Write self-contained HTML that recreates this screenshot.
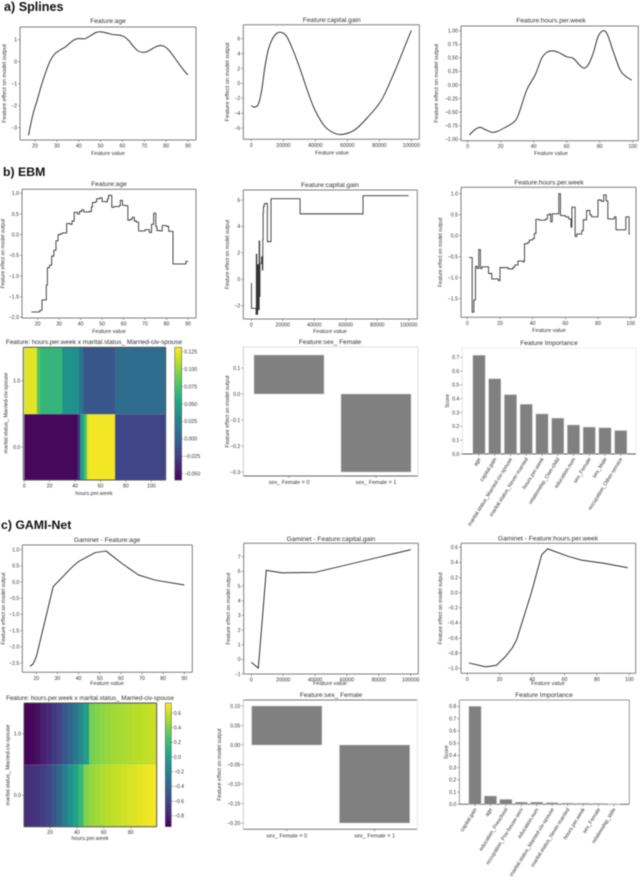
<!DOCTYPE html>
<html lang="en">
<head>
<meta charset="utf-8">
<title>Splines, EBM and GAMI-Net feature effects</title>
<style>
html,body{margin:0;padding:0;background:#fff;}
svg{display:block;filter:blur(0.4px);}
text{font-family:"Liberation Sans",sans-serif;fill:#333;}
</style>
</head>
<body>
<svg id="fig" width="640" height="880" viewBox="0 0 640 880" xmlns="http://www.w3.org/2000/svg">
<rect width="640" height="880" fill="#fff"></rect>
<text x="4" y="11" style="font-size:12.6px;font-weight:bold;fill:#111">a) Splines</text>
<text x="3" y="176" style="font-size:12.3px;font-weight:bold;fill:#111">b) EBM</text>
<text x="1" y="529" style="font-size:12.3px;font-weight:bold;fill:#111">c) GAMI-Net</text>
</svg>
<script>
// ---------- data: a) Splines ----------
var splineAgeX = [17,19,21,23,25,27,29,31,34,36,38,40,43,46,48,50,53,56,59,61,63,65,67,69,71,73,75,77,79,81,83,85,87,89,90];
var splineAgeY = [-3.35,-2.42,-1.75,-1.05,-0.45,0.05,0.35,0.5,0.68,0.85,1.0,1.05,1.05,1.22,1.33,1.36,1.3,1.23,1.2,1.12,0.95,0.7,0.5,0.43,0.45,0.55,0.67,0.73,0.7,0.55,0.3,0.02,-0.25,-0.5,-0.6];
var splineCapX = [0,1900,4400,6500,8500,10600,13000,15800,18500,22000,26000,30400,35600,39800,46000,52000,57500,65000,73000,81500,90000,96000,100000];
var splineCapY = [-3,-3.2,-2.8,-0.9,2.2,4.5,5.9,6.7,6.85,6.35,4.5,2,-1.3,-3.6,-5.8,-6.7,-6.85,-6.2,-4.5,-2.2,1.8,5,7.1];
var splineHoursX = [1,4.5,7.5,10.5,14.5,17.5,21.6,27.7,30.7,35.8,40.8,44.8,47.9,51.3,55,60,64,68,70.5,73,76,79,82.2,84.8,88.3,92.3,95.4,99.4];
var splineHoursY = [-0.92,-0.82,-0.78,-0.82,-0.87,-0.86,-0.8,-0.69,-0.55,-0.09,0.18,0.49,0.6,0.63,0.6,0.52,0.49,0.36,0.31,0.37,0.58,0.89,1.0,0.92,0.61,0.28,0.17,0.09];

// ---------- data: b) EBM ----------
var ebmAgeX = [17,21,22,24,24.5,25.5,26.5,27.5,28.5,29.5,30.5,31.5,33.5,35,36,37,38.5,39.5,40.5,41.5,44,45,45.5,47,47.5,49,50,52,52.5,53,54.5,55.5,58,58.5,59.5,61,62,63,64,65,66,67,70,72,73,74,75,75.5,77,78,80,81,83,89,90];
var ebmAgeY = [-1.87,-1.83,-1.58,-1.22,-0.8,-0.74,-0.52,-0.38,-0.15,0,0.02,0.04,0.27,0.25,0.33,0.54,0.5,0.56,0.6,0.55,0.56,0.67,0.78,0.8,0.87,0.89,0.8,0.79,0.87,0.95,0.66,0.68,0.7,0.83,0.71,0.7,0.35,0.37,0.42,0.33,0.3,0.09,0.12,0.05,0.25,0.52,0.2,0.1,0.09,0.22,0.2,0.08,-0.71,-0.65,-0.65];
var ebmCapX = [0,100,3000,3200,3500,4000,4500,5000,5300,5500,6500,7000,7300,7500,7700,8200,9000,10200,12500,31000,71000,100000];
var ebmCapY = [-0.3,-2.2,-2.65,1.9,-2.65,1.1,-2.3,2.9,-1.3,1.2,1.7,0.7,3,5,5.5,5.7,5.75,2.85,6.1,4.95,6.33,6.33];
var ebmHoursX = [1,3,4,5,6,7,8,9,13,15,19,20,25,28,29,31,34,35,37,38,40,41,42,44,48,49,50.5,51,52,56,57,60,62,63.5,64,66,67,70,71,73,75,76,80,82,83.5,85,86,90,91,97,99,99.5];
var ebmHoursY = [-0.52,-1.82,-1.53,-0.73,-0.78,-0.33,-0.78,-0.74,-0.9,-1.03,-1.07,-0.76,-0.79,-0.75,-0.7,-0.6,-0.62,-0.19,-0.16,-0.1,-0.07,0.05,0.39,0.37,0.4,0.5,0.52,0.33,0.52,1.0,0.48,0.45,0.4,0.2,0.68,-0.02,0.04,0.12,0.38,0.6,0.5,0.45,0.85,0.82,0.97,0.83,0.4,0.45,0.14,0.45,0.04,0.04];

var ebmHeatTopEdges = [0,10,12.5,30,43,46.5,71.5,111];
var ebmHeatTopValues = [0.123,0.078,0.066,0.036,0.013,-0.008,0.009];
var ebmHeatBottomEdges = [0,42,44,47,49,50,71.5,111];
var ebmHeatBottomValues = [-0.055,-0.03,0.046,0.075,0.11,0.128,-0.02];
var ebmHeatXTicks = [0,20,40,60,80,100];
var ebmHeatCbarTicks = [-0.05,-0.025,0,0.025,0.05,0.075,0.1,0.125];

var ebmSexCategories = ['sex_ Female = 0','sex_ Female = 1'];
var ebmSexValues = [0.15,-0.3];
var ebmImportanceNames = ['age','capital.gain','marital.status_Married-civ-spouse','marital.status_Never-married','hours.per.week','relationship_Own-child','education.num','sex_Female','sex_Male','occupation_Other-service'];
var ebmImportanceValues = [0.715,0.545,0.43,0.36,0.29,0.26,0.21,0.195,0.19,0.17];

// ---------- data: c) GAMI-Net ----------
var gamiAgeX = [17,18.5,20,28,37.5,39.9,47.8,53,60.4,68.3,76.2,90];
var gamiAgeY = [-2.6,-2.53,-2.31,-0.14,0.5,0.63,0.91,0.96,0.58,0.22,0.06,-0.09];
var gamiCapX = [0,4400,9400,19000,40000,100000];
var gamiCapY = [-0.2,-0.6,6.07,5.9,5.93,7.48];
var gamiHoursX = [1,11.3,18,23.3,27.8,30.5,39.7,45.9,49.6,62.3,70.6,84,99];
var gamiHoursY = [-0.93,-0.98,-0.96,-0.85,-0.73,-0.62,0.01,0.5,0.58,0.48,0.43,0.39,0.33];

var gamiHeatEdges = [0.7,5,9,13,17,21,25,29,33,37,41,45,49,53,57,61,65,69,73,77,81,85,89,93,97,99.3];
var gamiHeatTop = [-0.93,-0.91,-0.87,-0.8,-0.75,-0.67,-0.61,-0.5,-0.41,-0.28,-0.15,-0.02,0.38,0.42,0.45,0.47,0.49,0.51,0.52,0.53,0.55,0.56,0.57,0.59,0.6];
var gamiHeatBottom = [-0.72,-0.71,-0.69,-0.65,-0.6,-0.5,-0.38,-0.25,-0.1,0.02,0.18,0.42,0.47,0.5,0.53,0.55,0.57,0.59,0.61,0.63,0.65,0.67,0.69,0.71,0.72];
var gamiHeatXTicks = [20,40,60,80];
var gamiHeatCbarTicks = [-0.8,-0.6,-0.4,-0.2,0,0.2,0.4,0.6];

var gamiSexCategories = ['sex_ Female = 0','sex_ Female = 1'];
var gamiSexValues = [0.1,-0.2];
var gamiImportanceNames = ['capital.gain','age','education_Preschool','occupation_Priv-house-serv','education.num','marital.status_Married-civ-spouse','marital.status_Never-married','hours.per.week','sex_Female','relationship_Wife'];
var gamiImportanceValues = [0.8,0.068,0.04,0.018,0.018,0.014,0.01,0.009,0.008,0.005];

// ---------- shared tick label arrays ----------
var ageTicks = [20,30,40,50,60,70,80,90];
var capTicks = [0,20000,40000,60000,80000,100000];
var hoursTicks = [0,20,40,60,80,100];
var viridisStops = ['#440154','#482475','#414487','#355f8d','#2a788e','#21918c','#22a884','#43bf71','#7ad151','#bddf26','#fde725'];

// ---------- helpers ----------
var NS = 'http://www.w3.org/2000/svg';
var fig = document.getElementById('fig');

function mk(tag, attrs, name, parent) {
  var el = document.createElementNS(NS, tag);
  for (var k in attrs) { el.setAttribute(k, attrs[k]); }
  
  
  (parent || fig).appendChild(el);
  return el;
}
function txt(s, x, y, size, anchor, name, parent, extra) {
  var a = {x: x, y: y, 'text-anchor': anchor, style: 'font-size:' + size + 'px'};
  if (extra) { for (var k in extra) { a[k] = extra[k]; } }
  var t = mk('text', a, name, parent);
  t.textContent = s;
  return t;
}
function lin(v0, p0, v1, p1) {
  return function (v) { return p0 + (v - v0) * (p1 - p0) / (v1 - v0); };
}
function fmt(v, d) {
  return (v < 0 ? '\u2212' : '') + Math.abs(v).toFixed(d);
}
function hex2(c) { return parseInt(c, 16); }
function viridis(t) {
  t = Math.max(0, Math.min(1, t)) * (viridisStops.length - 1);
  var i = Math.min(Math.floor(t), viridisStops.length - 2), f = t - i;
  var a = viridisStops[i], b = viridisStops[i + 1], out = '#';
  for (var j = 1; j < 7; j += 2) {
    var ca = hex2(a.substr(j, 2)), cb = hex2(b.substr(j, 2));
    var c = Math.round(ca + (cb - ca) * f).toString(16);
    out += c.length < 2 ? '0' + c : c;
  }
  return out;
}
function frame(g, b, colors) {
  var c = colors || {};
  var edge = '#7f7f7f';
  mk('line', {x1: b.l, y1: b.t, x2: b.r, y2: b.t, stroke: c.top || edge, 'stroke-width': 1}, 'top-spine', g);
  mk('line', {x1: b.l, y1: b.b, x2: b.r, y2: b.b, stroke: c.bottom || edge, 'stroke-width': 1}, 'bottom-spine', g);
  mk('line', {x1: b.l, y1: b.t, x2: b.l, y2: b.b, stroke: c.left || edge, 'stroke-width': 1}, 'left-spine', g);
  mk('line', {x1: b.r, y1: b.t, x2: b.r, y2: b.b, stroke: c.right || edge, 'stroke-width': 1}, 'right-spine', g);
}
function xTick(g, b, px, label) {
  mk('line', {x1: px, y1: b.b, x2: px, y2: b.b + 2, stroke: '#555', 'stroke-width': 0.5}, 'x-tick', g);
  txt(label, px, b.b + 7.5, 5.2, 'middle', 'x-tick-label', g);
}
function yTick(g, b, py, label) {
  mk('line', {x1: b.l - 2, y1: py, x2: b.l, y2: py, stroke: '#555', 'stroke-width': 0.5}, 'y-tick', g);
  txt(label, b.l - 3, py + 1.8, 5.2, 'end', 'y-tick-label', g);
}
function yTitle(g, s, x, cy, size) {
  txt(s, x, cy, size || 5.8, 'middle', 'y-axis-title', g, {transform: 'rotate(-90 ' + x + ' ' + cy + ')'});
}
function linePath(xs, ys, sx, sy) {
  var d = '';
  for (var i = 0; i < xs.length; i++) { d += (i ? 'L' : 'M') + sx(xs[i]).toFixed(2) + ' ' + sy(ys[i]).toFixed(2); }
  return d;
}
function smoothPath(xs, ys, sx, sy) {
  var n = xs.length, d = 'M' + sx(xs[0]).toFixed(2) + ' ' + sy(ys[0]).toFixed(2);
  function px(i) { return sx(xs[Math.max(0, Math.min(n - 1, i))]); }
  function py(i) { return sy(ys[Math.max(0, Math.min(n - 1, i))]); }
  for (var i = 0; i < n - 1; i++) {
    var c1x = px(i) + (px(i + 1) - px(i - 1)) / 6, c1y = py(i) + (py(i + 1) - py(i - 1)) / 6;
    var c2x = px(i + 1) - (px(i + 2) - px(i)) / 6, c2y = py(i + 1) - (py(i + 2) - py(i)) / 6;
    d += 'C' + c1x.toFixed(2) + ' ' + c1y.toFixed(2) + ' ' + c2x.toFixed(2) + ' ' + c2y.toFixed(2) + ' ' + px(i + 1).toFixed(2) + ' ' + py(i + 1).toFixed(2);
  }
  return d;
}
function stepPath(xs, ys, sx, sy) {
  var d = 'M' + sx(xs[0]).toFixed(2) + ' ' + sy(ys[0]).toFixed(2);
  for (var i = 1; i < xs.length; i++) {
    d += 'H' + sx(xs[i]).toFixed(2) + 'V' + sy(ys[i]).toFixed(2);
  }
  return d;
}
function curvePanel(o) {
  var g = mk('g', {}, o.name, fig);
  var b = o.box;
  var sx = lin(o.xc[0], o.xc[1], o.xc[2], o.xc[3]);
  var sy = lin(o.yc[0], o.yc[1], o.yc[2], o.yc[3]);
  txt(o.title, o.titleX, o.titleY, o.titleSize || 6.6, 'middle', 'chart-title', g);
  frame(g, b);
  o.xTicks.forEach(function (v) { xTick(g, b, sx(v), String(v)); });
  o.yTicks.forEach(function (v) { yTick(g, b, sy(v), fmt(v, o.yDec)); });
  txt('Feature value', o.xTitleX, o.xTitleY, 5.5, 'middle', 'x-axis-title', g);
  yTitle(g, 'Feature effect on model output', o.yTitleX, (b.t + b.b) / 2, o.yTitleSize);
  var d = o.step ? stepPath(o.x, o.y, sx, sy) : (o.smooth ? smoothPath(o.x, o.y, sx, sy) : linePath(o.x, o.y, sx, sy));
  mk('path', {d: d, fill: 'none', stroke: o.step ? '#333' : '#111', 'stroke-width': o.step ? 0.9 : 0.85, 'stroke-linejoin': 'round'}, o.lineName, g);
}
function barPanel(o) {
  var g = mk('g', {}, o.name, fig);
  var b = o.box;
  var sy = lin(o.yc[0], o.yc[1], o.yc[2], o.yc[3]);
  txt(o.title, o.titleX, o.titleY, 6.6, 'middle', 'chart-title', g);
  frame(g, b, o.spines);
  o.values.forEach(function (v, i) {
    var cx = o.first + i * o.pitch;
    var y0 = sy(0), y1 = sy(v);
    mk('rect', {x: cx - o.w / 2, y: Math.min(y0, y1), width: o.w, height: Math.abs(y1 - y0), fill: '#808080', stroke: '#d0d0d0', 'stroke-width': 0.5}, 'bar-' + o.labels[i].replace(/[^a-zA-Z0-9]+/g, '-').toLowerCase(), g);
    mk('line', {x1: cx, y1: b.b, x2: cx, y2: b.b + 2, stroke: '#555', 'stroke-width': 0.5}, 'x-tick', g);
    if (o.rotate) {
      var lx = cx + 2, ly = b.b + 5;
      txt(o.labels[i], lx, ly, 5.3, 'end', 'x-tick-label', g, {transform: 'rotate(-58 ' + lx + ' ' + ly + ')'});
    } else {
      txt(o.labels[i], cx, b.b + 8, 5.5, 'middle', 'x-tick-label', g);
    }
  });
  o.yTicks.forEach(function (v) { yTick(g, b, sy(v), fmt(v, o.yDec)); });
  yTitle(g, o.yTitle, o.yTitleX, o.yTitleY || (b.t + b.b) / 2, o.yTitleSize);
}
function colorbar(g, cb, ticks, dec) {
  var sy = lin(cb.v0, cb.p0, cb.v1, cb.p1);
  var n = 64;
  for (var i = 0; i < n; i++) {
    var y0 = cb.b + (cb.t - cb.b) * i / n, y1 = cb.b + (cb.t - cb.b) * (i + 1) / n;
    mk('rect', {x: cb.l, y: y1, width: cb.r - cb.l, height: y0 - y1 + 0.3, fill: viridis((i + 0.5) / n)}, 'colorbar-step', g);
  }
  mk('rect', {x: cb.l, y: cb.t, width: cb.r - cb.l, height: cb.b - cb.t, fill: 'none', stroke: '#666', 'stroke-width': 0.6}, 'colorbar-outline', g);
  ticks.forEach(function (v) {
    var p = sy(v);
    mk('line', {x1: cb.r, y1: p, x2: cb.r + 1.5, y2: p, stroke: '#555', 'stroke-width': 0.5}, 'colorbar-tick', g);
    txt(fmt(v, dec), cb.r + 2.5, p + 1.8, 5.2, 'start', 'colorbar-tick-label', g);
  });
}
function heatRow(g, edges, values, sx, top, bottom, norm, name) {
  values.forEach(function (v, i) {
    var x0 = sx(edges[i]), x1 = sx(edges[i + 1]);
    mk('rect', {x: x0, y: top, width: x1 - x0 + 0.3, height: bottom - top, fill: viridis(norm(v))}, name, g);
  });
}

// ---------- a) Splines ----------
curvePanel({name: 'splines-age-chart', lineName: 'splines-age-line', smooth: true, box: {l: 20, r: 196, t: 27, b: 140},
  xc: [20, 35, 90, 188], yc: [1, 39.7, -3, 127.7], xTicks: ageTicks, yTicks: [-3, -2, -1, 0, 1], yDec: 0,
  title: 'Feature:age', titleX: 108, titleY: 23, xTitleX: 108, xTitleY: 155, yTitleX: 6, x: splineAgeX, y: splineAgeY});
curvePanel({name: 'splines-capital-gain-chart', lineName: 'splines-capital-gain-line', smooth: true, box: {l: 243.3, r: 419.3, t: 24.7, b: 139.3},
  xc: [0, 251.3, 100000, 411.3], yc: [6, 38.7, -6, 128], xTicks: capTicks, yTicks: [-6, -4, -2, 0, 2, 4, 6], yDec: 0,
  title: 'Feature:capital.gain', titleX: 331.7, titleY: 22, xTitleX: 332, xTitleY: 154.5, yTitleX: 229, x: splineCapX, y: splineCapY});
curvePanel({name: 'splines-hours-chart', lineName: 'splines-hours-line', smooth: true, box: {l: 461, r: 638.3, t: 26, b: 140.7},
  xc: [0, 467.7, 100, 632.7], yc: [1, 30.7, -1, 139.3], xTicks: hoursTicks, yTicks: [-1, -0.75, -0.5, -0.25, 0, 0.25, 0.5, 0.75, 1], yDec: 2,
  title: 'Feature:hours.per.week', titleX: 551, titleY: 22.5, xTitleX: 551, xTitleY: 155, yTitleX: 438, x: splineHoursX, y: splineHoursY});

// ---------- b) EBM curves ----------
curvePanel({name: 'ebm-age-chart', lineName: 'ebm-age-step-line', step: true, box: {l: 22, r: 196, t: 189.3, b: 318},
  xc: [20, 37.7, 90, 188], yc: [1, 193.3, -2, 317.3], xTicks: ageTicks, yTicks: [-2, -1.5, -1, -0.5, 0, 0.5, 1], yDec: 1,
  title: 'Feature:age', titleX: 109, titleY: 186, xTitleX: 109, xTitleY: 333, yTitleX: 4.5, yTitleSize: 5.1, x: ebmAgeX, y: ebmAgeY});
curvePanel({name: 'ebm-capital-gain-chart', lineName: 'ebm-capital-gain-step-line', step: true, box: {l: 243.3, r: 417.3, t: 190, b: 319},
  xc: [0, 251.3, 100000, 408.7], yc: [6, 200, -2, 305.7], xTicks: capTicks, yTicks: [-2, 0, 2, 4, 6], yDec: 0,
  title: 'Feature:capital.gain', titleX: 330, titleY: 187, xTitleX: 330, xTitleY: 333, yTitleX: 229, yTitleSize: 5.1, x: ebmCapX, y: ebmCapY});
curvePanel({name: 'ebm-hours-chart', lineName: 'ebm-hours-step-line', step: true, box: {l: 461, r: 636, t: 187.3, b: 317.3},
  xc: [0, 467.3, 100, 630.7], yc: [1, 193.7, -1.5, 298.7], xTicks: hoursTicks, yTicks: [-1.5, -1, -0.5, 0, 0.5, 1], yDec: 1,
  title: 'Feature:hours.per.week', titleX: 549, titleY: 184.5, xTitleX: 549, xTitleY: 332, yTitleX: 442, yTitleSize: 5.1, x: ebmHoursX, y: ebmHoursY});

// ---------- b) EBM heatmap ----------
(function () {
  var g = mk('g', {}, 'ebm-interaction-heatmap', fig);
  var b = {l: 23.3, r: 165.7, t: 347.3, b: 480};
  var sx = lin(0, 24.3, 100, 151.3);
  var vMin = -0.059, vMax = 0.131;
  var norm = function (v) { return (v - vMin) / (vMax - vMin); };
  var mid = 414.3;
  txt('Feature: hours.per.week x marital.status_ Married-civ-spouse', 94, 344, 6.5, 'middle', 'chart-title', g);
  heatRow(g, ebmHeatTopEdges, ebmHeatTopValues, sx, b.t, mid, norm, 'heatmap-cell-married-1');
  heatRow(g, ebmHeatBottomEdges, ebmHeatBottomValues, sx, mid, b.b, norm, 'heatmap-cell-married-0');
  frame(g, b, {top: '#555', bottom: '#555', left: '#555', right: '#555'});
  ebmHeatXTicks.forEach(function (v) { xTick(g, b, sx(v), String(v)); });
  yTick(g, b, 380.7, '1.0');
  yTick(g, b, 447, '0.0');
  txt('hours.per.week', 94, 495, 5.5, 'middle', 'x-axis-title', g);
  yTitle(g, 'marital.status_ Married-civ-spouse', 7.5, 413, 5.3);
  colorbar(g, {l: 174.7, r: 181.7, t: 347.3, b: 480, v0: 0.125, p0: 351.7, v1: -0.05, p1: 473.7}, ebmHeatCbarTicks, 3);
})();

// ---------- b) EBM bars ----------
barPanel({name: 'ebm-sex-chart', box: {l: 243.3, r: 418, t: 347, b: 476}, yc: [0, 394, -0.3, 472],
  values: ebmSexValues, labels: ebmSexCategories, first: 289, pitch: 87, w: 70,
  yTicks: [-0.3, -0.2, -0.1, 0, 0.1], yDec: 1, title: 'Feature:sex_ Female', titleX: 330, titleY: 344,
  yTitle: 'Feature effect on model output', yTitleX: 229, yTitleSize: 5.3,
  spines: {top: '#ddd', right: '#ddd', left: '#ccc', bottom: '#666'}});
barPanel({name: 'ebm-feature-importance-chart', box: {l: 462.3, r: 636, t: 348, b: 454}, yc: [0, 454, 0.7, 357.3],
  values: ebmImportanceValues, labels: ebmImportanceNames, first: 479, pitch: 15.75, w: 12.3, rotate: true,
  yTicks: [0, 0.1, 0.2, 0.3, 0.4, 0.5, 0.6, 0.7], yDec: 1, title: 'Feature Importance', titleX: 549, titleY: 345,
  yTitle: 'Score', yTitleX: 449, yTitleSize: 5.3,
  spines: {top: '#eee', right: '#eee', left: '#e4e4e4', bottom: '#555'}});

// ---------- c) GAMI-Net curves ----------
curvePanel({name: 'gami-age-chart', lineName: 'gami-age-line', box: {l: 22.3, r: 192.3, t: 545, b: 672.3},
  xc: [20, 36.3, 90, 184.3], yc: [1, 549.7, -2.5, 663], xTicks: ageTicks, yTicks: [-2.5, -2, -1.5, -1, -0.5, 0, 0.5, 1], yDec: 1,
  title: 'Gaminet - Feature:age', titleX: 107, titleY: 542, xTitleX: 107, xTitleY: 685, yTitleX: 5, yTitleSize: 5.3, x: gamiAgeX, y: gamiAgeY});
curvePanel({name: 'gami-capital-gain-chart', lineName: 'gami-capital-gain-line', box: {l: 243.7, r: 418.3, t: 543.3, b: 674},
  xc: [0, 251.3, 100000, 410.7], yc: [7, 556.7, -1, 674], xTicks: capTicks, yTicks: [-1, 0, 1, 2, 3, 4, 5, 6, 7], yDec: 0,
  title: 'Gaminet - Feature:capital.gain', titleX: 331, titleY: 541, xTitleX: 330, xTitleY: 685, yTitleX: 230, yTitleSize: 5.3, x: gamiCapX, y: gamiCapY});
curvePanel({name: 'gami-hours-chart', lineName: 'gami-hours-line', box: {l: 461, r: 635.7, t: 543.3, b: 673.3},
  xc: [0, 467.3, 100, 629.3], yc: [0.6, 547.3, -1, 668.3], xTicks: hoursTicks, yTicks: [-1, -0.8, -0.6, -0.4, -0.2, 0, 0.2, 0.4, 0.6], yDec: 1,
  title: 'Gaminet - Feature:hours.per.week', titleX: 548, titleY: 540.5, xTitleX: 548, xTitleY: 685, yTitleX: 442, yTitleSize: 5.3, x: gamiHoursX, y: gamiHoursY});

// ---------- c) GAMI-Net heatmap ----------
(function () {
  var g = mk('g', {}, 'gami-interaction-heatmap', fig);
  var b = {l: 24, r: 156.7, t: 703, b: 826.7};
  var sx = lin(20, 50, 80, 130.7);
  var vMin = -0.949, vMax = 0.736;
  var norm = function (v) { return (v - vMin) / (vMax - vMin); };
  var mid = 764.7;
  txt('Feature: hours.per.week x marital.status_ Married-civ-spouse', 90, 700, 6.2, 'middle', 'chart-title', g);
  heatRow(g, gamiHeatEdges, gamiHeatTop, sx, b.t, mid, norm, 'heatmap-cell-married-1');
  heatRow(g, gamiHeatEdges, gamiHeatBottom, sx, mid, b.b, norm, 'heatmap-cell-married-0');
  frame(g, b, {top: '#555', bottom: '#555', left: '#555', right: '#555'});
  gamiHeatXTicks.forEach(function (v) { xTick(g, b, sx(v), String(v)); });
  yTick(g, b, 733.7, '1.0');
  yTick(g, b, 795.3, '0.0');
  txt('hours.per.week', 90, 840, 5.5, 'middle', 'x-axis-title', g);
  yTitle(g, 'marital.status_ Married-civ-spouse', 9.5, 765, 5.3);
  colorbar(g, {l: 165.3, r: 171.3, t: 703, b: 826.7, v0: 0.6, p0: 713, v1: -0.8, p1: 815.7}, gamiHeatCbarTicks, 1);
})();

// ---------- c) GAMI-Net bars ----------
barPanel({name: 'gami-sex-chart', box: {l: 243.3, r: 417.3, t: 700, b: 829.3}, yc: [0.1, 706, -0.2, 823],
  values: gamiSexValues, labels: gamiSexCategories, first: 286.8, pitch: 87.8, w: 70.3,
  yTicks: [-0.2, -0.15, -0.1, -0.05, 0, 0.05, 0.1], yDec: 2, title: 'Feature:sex_ Female', titleX: 331, titleY: 697,
  yTitle: 'Feature effect on model output', yTitleX: 221, yTitleSize: 5.3,
  spines: {top: '#777', right: '#e6e6e6', left: '#ccc', bottom: '#777'}});
barPanel({name: 'gami-feature-importance-chart', box: {l: 459.3, r: 629.3, t: 700, b: 804.3}, yc: [0, 804.3, 0.8, 706.3],
  values: gamiImportanceValues, labels: gamiImportanceNames, first: 475, pitch: 15.44, w: 12.3, rotate: true,
  yTicks: [0, 0.1, 0.2, 0.3, 0.4, 0.5, 0.6, 0.7, 0.8], yDec: 1, title: 'Feature Importance', titleX: 544, titleY: 697,
  yTitle: 'Score', yTitleX: 448, yTitleSize: 5.3,
  spines: {top: '#999', right: '#999', left: '#999', bottom: '#666'}});
</script>
</body>
</html>
